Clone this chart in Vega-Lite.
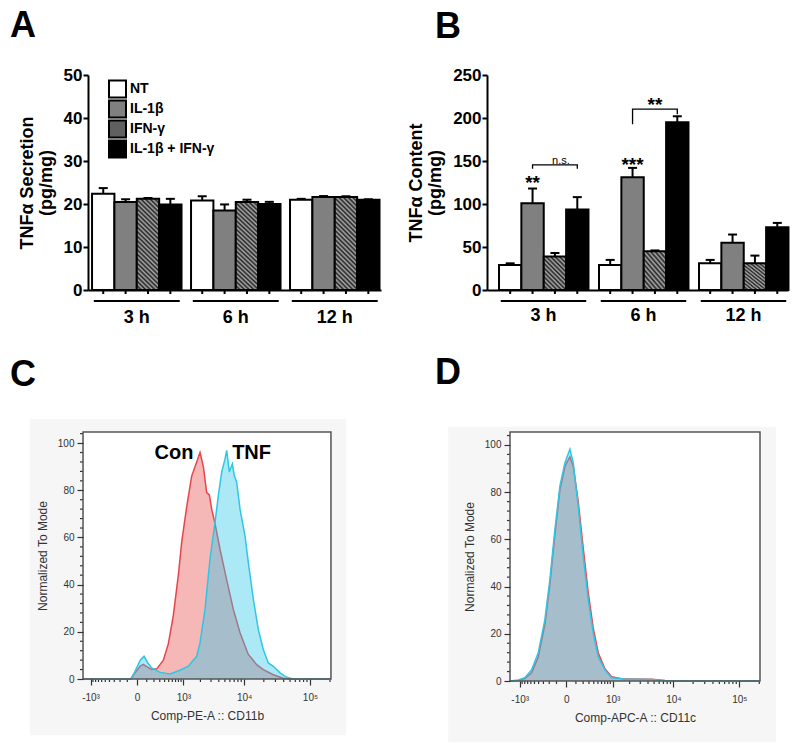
{
  "$schema": "https://vega.github.io/schema/vega-lite/v6.json",
  "padding": {"left": 10, "top": 8, "right": 2, "bottom": 2},
  "background": "white",
  "config": {
    "view": {"stroke": null},
    "font": "Liberation Sans",
    "title": {"fontSize": 36, "fontWeight": "bold", "anchor": "start", "frame": "group", "baseline": "alphabetic", "color": "black", "font": "Liberation Sans"}
  },
  "datasets": {
    "A": [
      {"time": "3 h", "trt": "NT", "mean": 22.4, "top": 23.7},
      {"time": "3 h", "trt": "IL-1β", "mean": 20.45, "top": 21.1},
      {"time": "3 h", "trt": "IFN-γ", "mean": 21.2, "top": 21.4},
      {"time": "3 h", "trt": "IL-1β + IFN-γ", "mean": 19.9, "top": 21.2},
      {"time": "6 h", "trt": "NT", "mean": 20.8, "top": 21.8},
      {"time": "6 h", "trt": "IL-1β", "mean": 18.5, "top": 19.9},
      {"time": "6 h", "trt": "IFN-γ", "mean": 20.45, "top": 21.0},
      {"time": "6 h", "trt": "IL-1β + IFN-γ", "mean": 20.0, "top": 20.5},
      {"time": "12 h", "trt": "NT", "mean": 21.0, "top": 21.2},
      {"time": "12 h", "trt": "IL-1β", "mean": 21.6, "top": 21.85},
      {"time": "12 h", "trt": "IFN-γ", "mean": 21.6, "top": 21.8},
      {"time": "12 h", "trt": "IL-1β + IFN-γ", "mean": 21.0, "top": 21.1}
    ],
    "B": [
      {"time": "3 h", "trt": "NT", "mean": 29, "top": 31},
      {"time": "3 h", "trt": "IL-1β", "mean": 101, "top": 118},
      {"time": "3 h", "trt": "IFN-γ", "mean": 39, "top": 43},
      {"time": "3 h", "trt": "IL-1β + IFN-γ", "mean": 93.5, "top": 108},
      {"time": "6 h", "trt": "NT", "mean": 29, "top": 35},
      {"time": "6 h", "trt": "IL-1β", "mean": 131, "top": 142},
      {"time": "6 h", "trt": "IFN-γ", "mean": 45, "top": 46},
      {"time": "6 h", "trt": "IL-1β + IFN-γ", "mean": 195, "top": 202},
      {"time": "12 h", "trt": "NT", "mean": 31, "top": 35},
      {"time": "12 h", "trt": "IL-1β", "mean": 55, "top": 64.5},
      {"time": "12 h", "trt": "IFN-γ", "mean": 31, "top": 40},
      {"time": "12 h", "trt": "IL-1β + IFN-γ", "mean": 73, "top": 78}
    ],
    "groups": [{"time": "3 h"}, {"time": "6 h"}, {"time": "12 h"}],
    "Bstars": [
      {"time": "3 h", "trt": "IL-1β", "y": 118, "label": "**"},
      {"time": "6 h", "trt": "IL-1β", "y": 138, "label": "***"},
      {"time": "6 h", "trt": "IFN-γ", "y": 208, "label": "**"}
    ],
    "Bns": [{"time": "3 h", "trt": "IFN-γ", "y": 147, "label": "n.s."}],
    "Bbr": [
      {"b": "1", "time": "3 h", "trt": "IL-1β", "y": 141, "o": 1},
      {"b": "1", "time": "3 h", "trt": "IL-1β", "y": 145.6, "o": 2},
      {"b": "1", "time": "3 h", "trt": "IL-1β + IFN-γ", "y": 145.6, "o": 3},
      {"b": "1", "time": "3 h", "trt": "IL-1β + IFN-γ", "y": 141, "o": 4},
      {"b": "2", "time": "6 h", "trt": "IL-1β", "y": 192.8, "o": 1},
      {"b": "2", "time": "6 h", "trt": "IL-1β", "y": 210.3, "o": 2},
      {"b": "2", "time": "6 h", "trt": "IL-1β + IFN-γ", "y": 210.3, "o": 3},
      {"b": "2", "time": "6 h", "trt": "IL-1β + IFN-γ", "y": 204.4, "o": 4}
    ],
    "minX": [{"v": -900}, {"v": -800}, {"v": -700}, {"v": -600}, {"v": -500}, {"v": -400}, {"v": -300}, {"v": -200}, {"v": -100}, {"v": 100}, {"v": 200}, {"v": 300}, {"v": 400}, {"v": 500}, {"v": 600}, {"v": 700}, {"v": 800}, {"v": 900}, {"v": 2000}, {"v": 3000}, {"v": 4000}, {"v": 5000}, {"v": 6000}, {"v": 7000}, {"v": 8000}, {"v": 9000}, {"v": 20000}, {"v": 30000}, {"v": 40000}, {"v": 50000}, {"v": 60000}, {"v": 70000}, {"v": 80000}, {"v": 90000}, {"v": 200000}],
    "minY": [{"v": 4}, {"v": 8}, {"v": 12}, {"v": 16}, {"v": 24}, {"v": 28}, {"v": 32}, {"v": 36}, {"v": 44}, {"v": 48}, {"v": 52}, {"v": 56}, {"v": 64}, {"v": 68}, {"v": 72}, {"v": 76}, {"v": 84}, {"v": 88}, {"v": 92}, {"v": 96}, {"v": 104}],
    "C": [
      {"s": "Con", "x": -1373, "y": 0}, {"s": "Con", "x": -60, "y": 0}, {"s": "Con", "x": -20, "y": 2.5}, {"s": "Con", "x": 30, "y": 5.5}, {"s": "Con", "x": 60, "y": 6.2}, {"s": "Con", "x": 110, "y": 5}, {"s": "Con", "x": 166, "y": 4}, {"s": "Con", "x": 245, "y": 4.3}, {"s": "Con", "x": 373, "y": 8}, {"s": "Con", "x": 491, "y": 15}, {"s": "Con", "x": 630, "y": 27}, {"s": "Con", "x": 797, "y": 44}, {"s": "Con", "x": 926, "y": 58}, {"s": "Con", "x": 1148, "y": 73}, {"s": "Con", "x": 1412, "y": 86}, {"s": "Con", "x": 1727, "y": 92}, {"s": "Con", "x": 1968, "y": 96}, {"s": "Con", "x": 2241, "y": 90}, {"s": "Con", "x": 2544, "y": 79}, {"s": "Con", "x": 2817, "y": 78}, {"s": "Con", "x": 3072, "y": 72}, {"s": "Con", "x": 3480, "y": 66}, {"s": "Con", "x": 4185, "y": 55}, {"s": "Con", "x": 5338, "y": 42}, {"s": "Con", "x": 6790, "y": 29.5}, {"s": "Con", "x": 8625, "y": 19.6}, {"s": "Con", "x": 11575, "y": 10.4}, {"s": "Con", "x": 15550, "y": 6.1}, {"s": "Con", "x": 19625, "y": 4}, {"s": "Con", "x": 27875, "y": 1.8}, {"s": "Con", "x": 39550, "y": 0.3}, {"s": "Con", "x": 49875, "y": 0}, {"s": "Con", "x": 207000, "y": 0},
      {"s": "TNF", "x": -1373, "y": 0}, {"s": "TNF", "x": -60, "y": 0}, {"s": "TNF", "x": -20, "y": 3}, {"s": "TNF", "x": 30, "y": 8}, {"s": "TNF", "x": 69, "y": 9.6}, {"s": "TNF", "x": 110, "y": 7}, {"s": "TNF", "x": 166, "y": 4.7}, {"s": "TNF", "x": 305, "y": 2.8}, {"s": "TNF", "x": 534, "y": 2.1}, {"s": "TNF", "x": 859, "y": 3.7}, {"s": "TNF", "x": 1229, "y": 5.4}, {"s": "TNF", "x": 1727, "y": 9.6}, {"s": "TNF", "x": 1968, "y": 15.3}, {"s": "TNF", "x": 2388, "y": 29.5}, {"s": "TNF", "x": 2886, "y": 50.8}, {"s": "TNF", "x": 3480, "y": 66.4}, {"s": "TNF", "x": 3935, "y": 77.7}, {"s": "TNF", "x": 4450, "y": 87.7}, {"s": "TNF", "x": 5025, "y": 93.3}, {"s": "TNF", "x": 5338, "y": 96.9}, {"s": "TNF", "x": 5880, "y": 87.7}, {"s": "TNF", "x": 6550, "y": 91.2}, {"s": "TNF", "x": 7025, "y": 86.2}, {"s": "TNF", "x": 7650, "y": 83.4}, {"s": "TNF", "x": 8625, "y": 72}, {"s": "TNF", "x": 10300, "y": 60.7}, {"s": "TNF", "x": 11575, "y": 49.4}, {"s": "TNF", "x": 13825, "y": 33.8}, {"s": "TNF", "x": 16475, "y": 21}, {"s": "TNF", "x": 19625, "y": 12.5}, {"s": "TNF", "x": 23400, "y": 6.8}, {"s": "TNF", "x": 27875, "y": 5.4}, {"s": "TNF", "x": 35225, "y": 2.6}, {"s": "TNF", "x": 44500, "y": 0.7}, {"s": "TNF", "x": 56000, "y": 0}, {"s": "TNF", "x": 207000, "y": 0}
    ],
    "D": [
      {"s": "Con", "x": -1500, "y": 0}, {"s": "Con", "x": -1069, "y": 0.2}, {"s": "Con", "x": -797, "y": 1}, {"s": "Con", "x": -580, "y": 3.5}, {"s": "Con", "x": -410, "y": 10}, {"s": "Con", "x": -273, "y": 24}, {"s": "Con", "x": -190, "y": 41}, {"s": "Con", "x": -120, "y": 62}, {"s": "Con", "x": -61, "y": 81}, {"s": "Con", "x": -11, "y": 91}, {"s": "Con", "x": 34, "y": 95}, {"s": "Con", "x": 69, "y": 91}, {"s": "Con", "x": 129, "y": 76}, {"s": "Con", "x": 200, "y": 56.5}, {"s": "Con", "x": 286, "y": 37.5}, {"s": "Con", "x": 387, "y": 22.5}, {"s": "Con", "x": 507, "y": 12}, {"s": "Con", "x": 705, "y": 5.2}, {"s": "Con", "x": 952, "y": 1.8}, {"s": "Con", "x": 1597, "y": 0.8}, {"s": "Con", "x": 4575, "y": 0.7}, {"s": "Con", "x": 7400, "y": 0.2}, {"s": "Con", "x": 13250, "y": 0}, {"s": "Con", "x": 205000, "y": 0},
      {"s": "TNF", "x": -1500, "y": 0}, {"s": "TNF", "x": -1069, "y": 0.4}, {"s": "TNF", "x": -797, "y": 1.4}, {"s": "TNF", "x": -580, "y": 4.7}, {"s": "TNF", "x": -410, "y": 11.8}, {"s": "TNF", "x": -273, "y": 26}, {"s": "TNF", "x": -190, "y": 43}, {"s": "TNF", "x": -120, "y": 64}, {"s": "TNF", "x": -61, "y": 82.6}, {"s": "TNF", "x": -11, "y": 92.5}, {"s": "TNF", "x": 34, "y": 98.2}, {"s": "TNF", "x": 69, "y": 92.5}, {"s": "TNF", "x": 129, "y": 74}, {"s": "TNF", "x": 200, "y": 53}, {"s": "TNF", "x": 286, "y": 34.4}, {"s": "TNF", "x": 387, "y": 20.3}, {"s": "TNF", "x": 507, "y": 10.3}, {"s": "TNF", "x": 705, "y": 4.7}, {"s": "TNF", "x": 952, "y": 1.4}, {"s": "TNF", "x": 1597, "y": 0.8}, {"s": "TNF", "x": 4575, "y": 0.6}, {"s": "TNF", "x": 7400, "y": 0.15}, {"s": "TNF", "x": 13250, "y": 0}, {"s": "TNF", "x": 205000, "y": 0}
    ]
  },
  "spacing": 28,
  "align": "none",
  "vconcat": [
    {
      "spacing": 26,
      "hconcat": [
        {
          "width": 293,
          "height": 215,
          "title": {"text": "A", "dx": -78, "offset": 21},
          "layer": [
            {
              "data": {"name": "A"},
              "mark": {"type": "bar", "stroke": "black", "strokeWidth": 2},
              "encoding": {
                "x": {"field": "time", "type": "nominal", "sort": ["3 h", "6 h", "12 h"],
                  "scale": {"paddingInner": 0.096, "paddingOuter": 0.028, "align": 0.73},
                  "axis": {"title": null, "labelAngle": 0, "labelFontSize": 18, "labelFontWeight": "bold", "labelColor": "black", "labelPadding": 18, "ticks": false, "domainColor": "black", "domainWidth": 2}},
                "xOffset": {"field": "trt", "type": "nominal", "sort": ["NT", "IL-1β", "IFN-γ", "IL-1β + IFN-γ"], "scale": {"paddingInner": 0, "paddingOuter": 0}},
                "y": {"field": "mean", "type": "quantitative", "scale": {"domain": [0, 50], "nice": false},
                  "axis": {"values": [0, 10, 20, 30, 40, 50], "title": ["TNFα Secretion", "(pg/mg)"], "titleFontSize": 18, "titleFontWeight": "bold", "titleColor": "black", "titlePadding": 8, "titleLineHeight": 19, "labelFontSize": 17, "labelFontWeight": "bold", "labelColor": "black", "labelPadding": 1, "tickSize": 5, "tickWidth": 2, "tickColor": "black", "domainColor": "black", "domainWidth": 2, "grid": false}},
                "fill": {
                  "condition": {"test": "datum.trt == 'IFN-γ'", "value": {"gradient": "linear", "x1": 0, "y1": 1, "x2": 0.281, "y2": -0.1725, "stops": [{"offset":0,"color":"#222"},{"offset":0.02,"color":"#aaa"},{"offset":0.04,"color":"#222"},{"offset":0.06,"color":"#aaa"},{"offset":0.08,"color":"#222"},{"offset":0.1,"color":"#aaa"},{"offset":0.12,"color":"#222"},{"offset":0.14,"color":"#aaa"},{"offset":0.16,"color":"#222"},{"offset":0.18,"color":"#aaa"},{"offset":0.2,"color":"#222"},{"offset":0.22,"color":"#aaa"},{"offset":0.24,"color":"#222"},{"offset":0.26,"color":"#aaa"},{"offset":0.28,"color":"#222"},{"offset":0.3,"color":"#aaa"},{"offset":0.32,"color":"#222"},{"offset":0.34,"color":"#aaa"},{"offset":0.36,"color":"#222"},{"offset":0.38,"color":"#aaa"},{"offset":0.4,"color":"#222"},{"offset":0.42,"color":"#aaa"},{"offset":0.44,"color":"#222"},{"offset":0.46,"color":"#aaa"},{"offset":0.48,"color":"#222"},{"offset":0.5,"color":"#aaa"},{"offset":0.52,"color":"#222"},{"offset":0.54,"color":"#aaa"},{"offset":0.56,"color":"#222"},{"offset":0.58,"color":"#aaa"},{"offset":0.6,"color":"#222"},{"offset":0.62,"color":"#aaa"},{"offset":0.64,"color":"#222"},{"offset":0.66,"color":"#aaa"},{"offset":0.68,"color":"#222"},{"offset":0.7,"color":"#aaa"},{"offset":0.72,"color":"#222"},{"offset":0.74,"color":"#aaa"},{"offset":0.76,"color":"#222"},{"offset":0.78,"color":"#aaa"},{"offset":0.8,"color":"#222"},{"offset":0.82,"color":"#aaa"},{"offset":0.84,"color":"#222"},{"offset":0.86,"color":"#aaa"},{"offset":0.88,"color":"#222"},{"offset":0.9,"color":"#aaa"},{"offset":0.92,"color":"#222"},{"offset":0.94,"color":"#aaa"},{"offset":0.96,"color":"#222"},{"offset":0.98,"color":"#aaa"},{"offset":1,"color":"#222"}]}},
                  "field": "trt", "type": "nominal",
                  "scale": {"domain": ["NT", "IL-1β", "IFN-γ", "IL-1β + IFN-γ"], "range": ["#ffffff", "#808080", "#606060", "#000000"]},
                  "legend": {"orient": "none", "legendX": 20, "legendY": 4, "title": null, "symbolType": "square", "symbolSize": 289, "symbolStrokeColor": "black", "symbolStrokeWidth": 2, "symbolOpacity": 1, "labelFont": "Liberation Sans", "labelFontSize": 14, "labelFontWeight": "bold", "labelColor": "black", "clipHeight": 20, "rowPadding": 0, "labelOffset": 3, "padding": 0}}
              }
            },
            {
              "data": {"name": "A"},
              "mark": {"type": "rule", "strokeWidth": 2, "color": "black"},
              "encoding": {
                "x": {"field": "time", "type": "nominal", "sort": ["3 h", "6 h", "12 h"]},
                "xOffset": {"field": "trt", "type": "nominal", "sort": ["NT", "IL-1β", "IFN-γ", "IL-1β + IFN-γ"]},
                "y": {"field": "mean", "type": "quantitative"},
                "y2": {"field": "top"}
              }
            },
            {
              "data": {"name": "A"},
              "mark": {"type": "point", "shape": "stroke", "size": 81, "stroke": "black", "strokeWidth": 2, "opacity": 1},
              "encoding": {
                "x": {"field": "time", "type": "nominal", "sort": ["3 h", "6 h", "12 h"]},
                "xOffset": {"field": "trt", "type": "nominal", "sort": ["NT", "IL-1β", "IFN-γ", "IL-1β + IFN-γ"]},
                "y": {"field": "top", "type": "quantitative"}
              }
            },
            {
              "data": {"name": "A"},
              "mark": {"type": "rule", "strokeWidth": 2, "color": "black"},
              "encoding": {
                "x": {"field": "time", "type": "nominal", "sort": ["3 h", "6 h", "12 h"]},
                "xOffset": {"field": "trt", "type": "nominal", "sort": ["NT", "IL-1β", "IFN-γ", "IL-1β + IFN-γ"]},
                "y": {"datum": 0, "type": "quantitative"},
                "y2": {"datum": -0.93}
              }
            },
            {
              "data": {"name": "groups"},
              "mark": {"type": "bar", "color": "black", "width": {"band": 0.96}},
              "encoding": {
                "x": {"field": "time", "type": "nominal", "sort": ["3 h", "6 h", "12 h"]},
                "y": {"datum": -2.33, "type": "quantitative"},
                "y2": {"datum": -2.8}
              }
            }
          ]
        },
        {
          "width": 301,
          "height": 215,
          "title": {"text": "B", "dx": -52, "offset": 20.5},
          "layer": [
            {
              "data": {"name": "B"},
              "mark": {"type": "bar", "stroke": "black", "strokeWidth": 2},
              "encoding": {
                "x": {"field": "time", "type": "nominal", "sort": ["3 h", "6 h", "12 h"],
                  "scale": {"paddingInner": 0.11, "paddingOuter": 0.06, "align": 1},
                  "axis": {"title": null, "labelAngle": 0, "labelFontSize": 18, "labelFontWeight": "bold", "labelColor": "black", "labelPadding": 16, "ticks": false, "domainColor": "black", "domainWidth": 2}},
                "xOffset": {"field": "trt", "type": "nominal", "sort": ["NT", "IL-1β", "IFN-γ", "IL-1β + IFN-γ"], "scale": {"paddingInner": 0, "paddingOuter": 0}},
                "y": {"field": "mean", "type": "quantitative", "scale": {"domain": [0, 250], "nice": false},
                  "axis": {"values": [0, 50, 100, 150, 200, 250], "title": ["TNFα Content", "(pg/mg)"], "titleFontSize": 18, "titleFontWeight": "bold", "titleColor": "black", "titlePadding": 8, "titleLineHeight": 19, "labelFontSize": 17, "labelFontWeight": "bold", "labelColor": "black", "labelPadding": 1, "tickSize": 5, "tickWidth": 2, "tickColor": "black", "domainColor": "black", "domainWidth": 2, "grid": false}},
                "fill": {
                  "condition": {"test": "datum.trt == 'IFN-γ'", "value": {"gradient": "linear", "x1": 0, "y1": 1, "x2": 0.77, "y2": -0.154, "stops": [{"offset":0,"color":"#222"},{"offset":0.04,"color":"#aaa"},{"offset":0.08,"color":"#222"},{"offset":0.12,"color":"#aaa"},{"offset":0.16,"color":"#222"},{"offset":0.2,"color":"#aaa"},{"offset":0.24,"color":"#222"},{"offset":0.28,"color":"#aaa"},{"offset":0.32,"color":"#222"},{"offset":0.36,"color":"#aaa"},{"offset":0.4,"color":"#222"},{"offset":0.44,"color":"#aaa"},{"offset":0.48,"color":"#222"},{"offset":0.52,"color":"#aaa"},{"offset":0.56,"color":"#222"},{"offset":0.6,"color":"#aaa"},{"offset":0.64,"color":"#222"},{"offset":0.68,"color":"#aaa"},{"offset":0.72,"color":"#222"},{"offset":0.76,"color":"#aaa"},{"offset":0.8,"color":"#222"},{"offset":0.84,"color":"#aaa"},{"offset":0.88,"color":"#222"},{"offset":0.92,"color":"#aaa"},{"offset":0.96,"color":"#222"},{"offset":1,"color":"#aaa"}]}},
                  "field": "trt", "type": "nominal",
                  "scale": {"domain": ["NT", "IL-1β", "IFN-γ", "IL-1β + IFN-γ"], "range": ["#ffffff", "#808080", "#606060", "#000000"]},
                  "legend": {"orient": "none", "legendX": 19, "legendY": -9, "title": null, "symbolType": "square", "symbolSize": 289, "symbolStrokeColor": "black", "symbolStrokeWidth": 2, "symbolOpacity": 1, "labelFont": "Liberation Sans", "labelFontSize": 14, "labelFontWeight": "bold", "labelColor": "black", "clipHeight": 19.5, "rowPadding": 0, "labelOffset": 3, "padding": 0}}
              }
            },
            {
              "data": {"name": "B"},
              "mark": {"type": "rule", "strokeWidth": 2, "color": "black"},
              "encoding": {
                "x": {"field": "time", "type": "nominal", "sort": ["3 h", "6 h", "12 h"]},
                "xOffset": {"field": "trt", "type": "nominal", "sort": ["NT", "IL-1β", "IFN-γ", "IL-1β + IFN-γ"]},
                "y": {"field": "mean", "type": "quantitative"},
                "y2": {"field": "top"}
              }
            },
            {
              "data": {"name": "B"},
              "mark": {"type": "point", "shape": "stroke", "size": 81, "stroke": "black", "strokeWidth": 2, "opacity": 1},
              "encoding": {
                "x": {"field": "time", "type": "nominal", "sort": ["3 h", "6 h", "12 h"]},
                "xOffset": {"field": "trt", "type": "nominal", "sort": ["NT", "IL-1β", "IFN-γ", "IL-1β + IFN-γ"]},
                "y": {"field": "top", "type": "quantitative"}
              }
            },
            {
              "data": {"name": "B"},
              "mark": {"type": "rule", "strokeWidth": 2, "color": "black"},
              "encoding": {
                "x": {"field": "time", "type": "nominal", "sort": ["3 h", "6 h", "12 h"]},
                "xOffset": {"field": "trt", "type": "nominal", "sort": ["NT", "IL-1β", "IFN-γ", "IL-1β + IFN-γ"]},
                "y": {"datum": 0, "type": "quantitative"},
                "y2": {"datum": -4.6}
              }
            },
            {
              "data": {"name": "groups"},
              "mark": {"type": "bar", "color": "black", "width": {"band": 0.96}},
              "encoding": {
                "x": {"field": "time", "type": "nominal", "sort": ["3 h", "6 h", "12 h"]},
                "y": {"datum": -11.6, "type": "quantitative"},
                "y2": {"datum": -13.9}
              }
            },
            {
              "data": {"name": "Bbr"},
              "mark": {"type": "line", "color": "black", "strokeWidth": 1.3},
              "encoding": {
                "x": {"field": "time", "type": "nominal", "sort": ["3 h", "6 h", "12 h"]},
                "xOffset": {"field": "trt", "type": "nominal", "sort": ["NT", "IL-1β", "IFN-γ", "IL-1β + IFN-γ"]},
                "y": {"field": "y", "type": "quantitative"},
                "detail": {"field": "b"},
                "order": {"field": "o"}
              }
            },
            {
              "data": {"name": "Bstars"},
              "mark": {"type": "text", "fontSize": 19, "fontWeight": "bold", "baseline": "alphabetic", "color": "black"},
              "encoding": {
                "x": {"field": "time", "type": "nominal", "sort": ["3 h", "6 h", "12 h"]},
                "xOffset": {"field": "trt", "type": "nominal", "sort": ["NT", "IL-1β", "IFN-γ", "IL-1β + IFN-γ"]},
                "y": {"field": "y", "type": "quantitative"},
                "text": {"field": "label"}
              }
            },
            {
              "data": {"name": "Bns"},
              "mark": {"type": "text", "fontSize": 11, "baseline": "alphabetic", "color": "black", "dx": 6},
              "encoding": {
                "x": {"field": "time", "type": "nominal", "sort": ["3 h", "6 h", "12 h"]},
                "xOffset": {"field": "trt", "type": "nominal", "sort": ["NT", "IL-1β", "IFN-γ", "IL-1β + IFN-γ"]},
                "y": {"field": "y", "type": "quantitative"},
                "text": {"field": "label"}
              }
            }
          ]
        }
      ]
    },
    {
      "spacing": 88,
      "align": "none",
      "hconcat": [
        {
          "width": 248,
          "height": 247,
          "title": {"text": "C", "dx": -78, "offset": 25},
          "data": {"name": "C"},
          "layer": [
            {
              "data": {"values": [{}]},
              "mark": {"type": "rect", "color": "#f6f6f6"},
              "encoding": {
                "x": {"datum": -9925, "type": "quantitative"},
                "x2": {"datum": 348800},
                "y": {"datum": 110.2, "type": "quantitative"},
                "y2": {"datum": -23.8}
              }
            },
            {
              "data": {"values": [{}]},
              "mark": {"type": "rect", "color": "#ffffff"},
              "encoding": {
                "x": {"datum": -1373, "type": "quantitative"},
                "x2": {"datum": 207000},
                "y": {"datum": 104.7, "type": "quantitative"},
                "y2": {"datum": 0}
              }
            },
            {
              "data": {"name": "minX"},
              "mark": {"type": "tick", "orient": "vertical", "size": 3, "thickness": 1.2, "color": "#333333", "yOffset": 1.5, "opacity": 1},
              "encoding": {"x": {"field": "v", "type": "quantitative"}, "y": {"datum": 0, "type": "quantitative"}}
            },
            {
              "data": {"name": "minY"},
              "mark": {"type": "tick", "orient": "horizontal", "size": 3, "thickness": 1.2, "color": "#333333", "xOffset": -1.5, "opacity": 1},
              "encoding": {"y": {"field": "v", "type": "quantitative"}, "x": {"datum": -1373, "type": "quantitative"}}
            },
            {
              "transform": [{"filter": "datum.s == 'Con'"}],
              "mark": {"type": "area", "color": "#e84a4a", "fillOpacity": 0.4},
              "encoding": {
                "x": {"field": "x", "type": "quantitative",
                  "scale": {"type": "symlog", "constant": 250, "domain": [-1116, 246570], "nice": false, "zero": false},
                  "axis": {"zindex": 2, "values": [-1000, 0, 1000, 10000, 100000],
                    "labelExpr": "datum.value == -1000 ? '-10³' : datum.value == 0 ? '0' : datum.value == 1000 ? '10³' : datum.value == 10000 ? '10⁴' : datum.value == 100000 ? '10⁵' : ''",
                    "title": "Comp-PE-A :: CD11b", "titleFont": "Liberation Sans", "titleFontSize": 12, "titleFontWeight": "normal", "titleColor": "#333333", "titlePadding": 8, "titleX": 119,
                    "labelFont": "Liberation Sans", "labelFontSize": 10, "labelColor": "#333333", "labelPadding": 7, "labelOverlap": false, "labelFlush": false,
                    "domain": false, "grid": false, "tickColor": "#333333", "tickWidth": 1.2, "tickSize": 6}},
                "y": {"field": "y", "type": "quantitative",
                  "scale": {"domain": [0, 104.7], "nice": false},
                  "axis": {"zindex": 2, "offset": 5, "values": [0, 20, 40, 60, 80, 100],
                    "title": "Normalized To Mode", "titleFont": "Liberation Sans", "titleFontSize": 12, "titleFontWeight": "normal", "titleColor": "#333333", "titlePadding": 8,
                    "labelFont": "Liberation Sans", "labelFontSize": 10, "labelColor": "#333333", "labelPadding": 3, "labelOverlap": false, "labelFlush": false,
                    "domain": false, "grid": false, "tickColor": "#333333", "tickWidth": 1.2, "tickSize": 6}}
              }
            },
            {
              "transform": [{"filter": "datum.s == 'Con'"}],
              "mark": {"type": "line", "color": "#e8454a", "strokeWidth": 1.5},
              "encoding": {"x": {"field": "x", "type": "quantitative"}, "y": {"field": "y", "type": "quantitative"}}
            },
            {
              "transform": [{"filter": "datum.s == 'TNF'"}],
              "mark": {"type": "area", "color": "#30c8e8", "fillOpacity": 0.4},
              "encoding": {"x": {"field": "x", "type": "quantitative"}, "y": {"field": "y", "type": "quantitative"}}
            },
            {
              "transform": [{"filter": "datum.s == 'TNF'"}],
              "mark": {"type": "line", "color": "#2fc6e4", "strokeWidth": 1.5},
              "encoding": {"x": {"field": "x", "type": "quantitative"}, "y": {"field": "y", "type": "quantitative"}}
            },
            {
              "data": {"values": [{"x": 650, "y": 96, "label": "Con"}, {"x": 13000, "y": 96, "label": "TNF"}]},
              "mark": {"type": "text", "fontSize": 20, "fontWeight": "bold", "color": "black", "baseline": "middle"},
              "encoding": {"x": {"field": "x", "type": "quantitative"}, "y": {"field": "y", "type": "quantitative"}, "text": {"field": "label"}}
            },
            {
              "data": {"values": [{}]},
              "mark": {"type": "rect", "filled": false, "stroke": "#555555", "strokeWidth": 1.5},
              "encoding": {
                "x": {"datum": -1373, "type": "quantitative"},
                "x2": {"datum": 207000},
                "y": {"datum": 104.7, "type": "quantitative"},
                "y2": {"datum": 0}
              }
            }
          ]
        },
        {
          "width": 250,
          "height": 249,
          "title": {"text": "D", "dx": -75, "offset": 35},
          "data": {"name": "D"},
          "layer": [
            {
              "data": {"values": [{}]},
              "mark": {"type": "rect", "color": "#f6f6f6"},
              "encoding": {
                "x": {"datum": -14620, "type": "quantitative"},
                "x2": {"datum": 359300},
                "y": {"datum": 107.7, "type": "quantitative"},
                "y2": {"datum": -26}
              }
            },
            {
              "data": {"values": [{}]},
              "mark": {"type": "rect", "color": "#ffffff"},
              "encoding": {
                "x": {"datum": -1500, "type": "quantitative"},
                "x2": {"datum": 205000},
                "y": {"datum": 105.5, "type": "quantitative"},
                "y2": {"datum": 0}
              }
            },
            {
              "data": {"name": "minX"},
              "mark": {"type": "tick", "orient": "vertical", "size": 3, "thickness": 1.2, "color": "#333333", "yOffset": 1.5, "opacity": 1},
              "encoding": {"x": {"field": "v", "type": "quantitative"}, "y": {"datum": 0, "type": "quantitative"}}
            },
            {
              "data": {"name": "minY"},
              "mark": {"type": "tick", "orient": "horizontal", "size": 3, "thickness": 1.2, "color": "#333333", "xOffset": -1.5, "opacity": 1},
              "encoding": {"y": {"field": "v", "type": "quantitative"}, "x": {"datum": -1500, "type": "quantitative"}}
            },
            {
              "transform": [{"filter": "datum.s == 'Con'"}],
              "mark": {"type": "area", "color": "#e84a4a", "fillOpacity": 0.4},
              "encoding": {
                "x": {"field": "x", "type": "quantitative",
                  "scale": {"type": "symlog", "constant": 250, "domain": [-1500, 205000], "nice": false, "zero": false},
                  "axis": {"zindex": 2, "values": [-1000, 0, 1000, 10000, 100000],
                    "labelExpr": "datum.value == -1000 ? '-10³' : datum.value == 0 ? '0' : datum.value == 1000 ? '10³' : datum.value == 10000 ? '10⁴' : datum.value == 100000 ? '10⁵' : ''",
                    "title": "Comp-APC-A :: CD11c", "titleFont": "Liberation Sans", "titleFontSize": 12, "titleFontWeight": "normal", "titleColor": "#333333", "titlePadding": 8,
                    "labelFont": "Liberation Sans", "labelFontSize": 10, "labelColor": "#333333", "labelPadding": 7, "labelOverlap": false, "labelFlush": false,
                    "domain": false, "grid": false, "tickColor": "#333333", "tickWidth": 1.2, "tickSize": 6}},
                "y": {"field": "y", "type": "quantitative",
                  "scale": {"domain": [0, 105.5], "nice": false},
                  "axis": {"zindex": 2, "values": [0, 20, 40, 60, 80, 100],
                    "title": "Normalized To Mode", "titleFont": "Liberation Sans", "titleFontSize": 12, "titleFontWeight": "normal", "titleColor": "#333333", "titlePadding": 8,
                    "labelFont": "Liberation Sans", "labelFontSize": 10, "labelColor": "#333333", "labelPadding": 3, "labelOverlap": false, "labelFlush": false,
                    "domain": false, "grid": false, "tickColor": "#333333", "tickWidth": 1.2, "tickSize": 6}}
              }
            },
            {
              "transform": [{"filter": "datum.s == 'Con'"}],
              "mark": {"type": "line", "color": "#e8454a", "strokeWidth": 1.5},
              "encoding": {"x": {"field": "x", "type": "quantitative"}, "y": {"field": "y", "type": "quantitative"}}
            },
            {
              "transform": [{"filter": "datum.s == 'TNF'"}],
              "mark": {"type": "area", "color": "#30c8e8", "fillOpacity": 0.4},
              "encoding": {"x": {"field": "x", "type": "quantitative"}, "y": {"field": "y", "type": "quantitative"}}
            },
            {
              "transform": [{"filter": "datum.s == 'TNF'"}],
              "mark": {"type": "line", "color": "#2fc6e4", "strokeWidth": 1.5},
              "encoding": {"x": {"field": "x", "type": "quantitative"}, "y": {"field": "y", "type": "quantitative"}}
            },
            {
              "data": {"values": [{}]},
              "mark": {"type": "rect", "filled": false, "stroke": "#555555", "strokeWidth": 1.5},
              "encoding": {
                "x": {"datum": -1500, "type": "quantitative"},
                "x2": {"datum": 205000},
                "y": {"datum": 105.5, "type": "quantitative"},
                "y2": {"datum": 0}
              }
            }
          ]
        }
      ]
    }
  ]
}
